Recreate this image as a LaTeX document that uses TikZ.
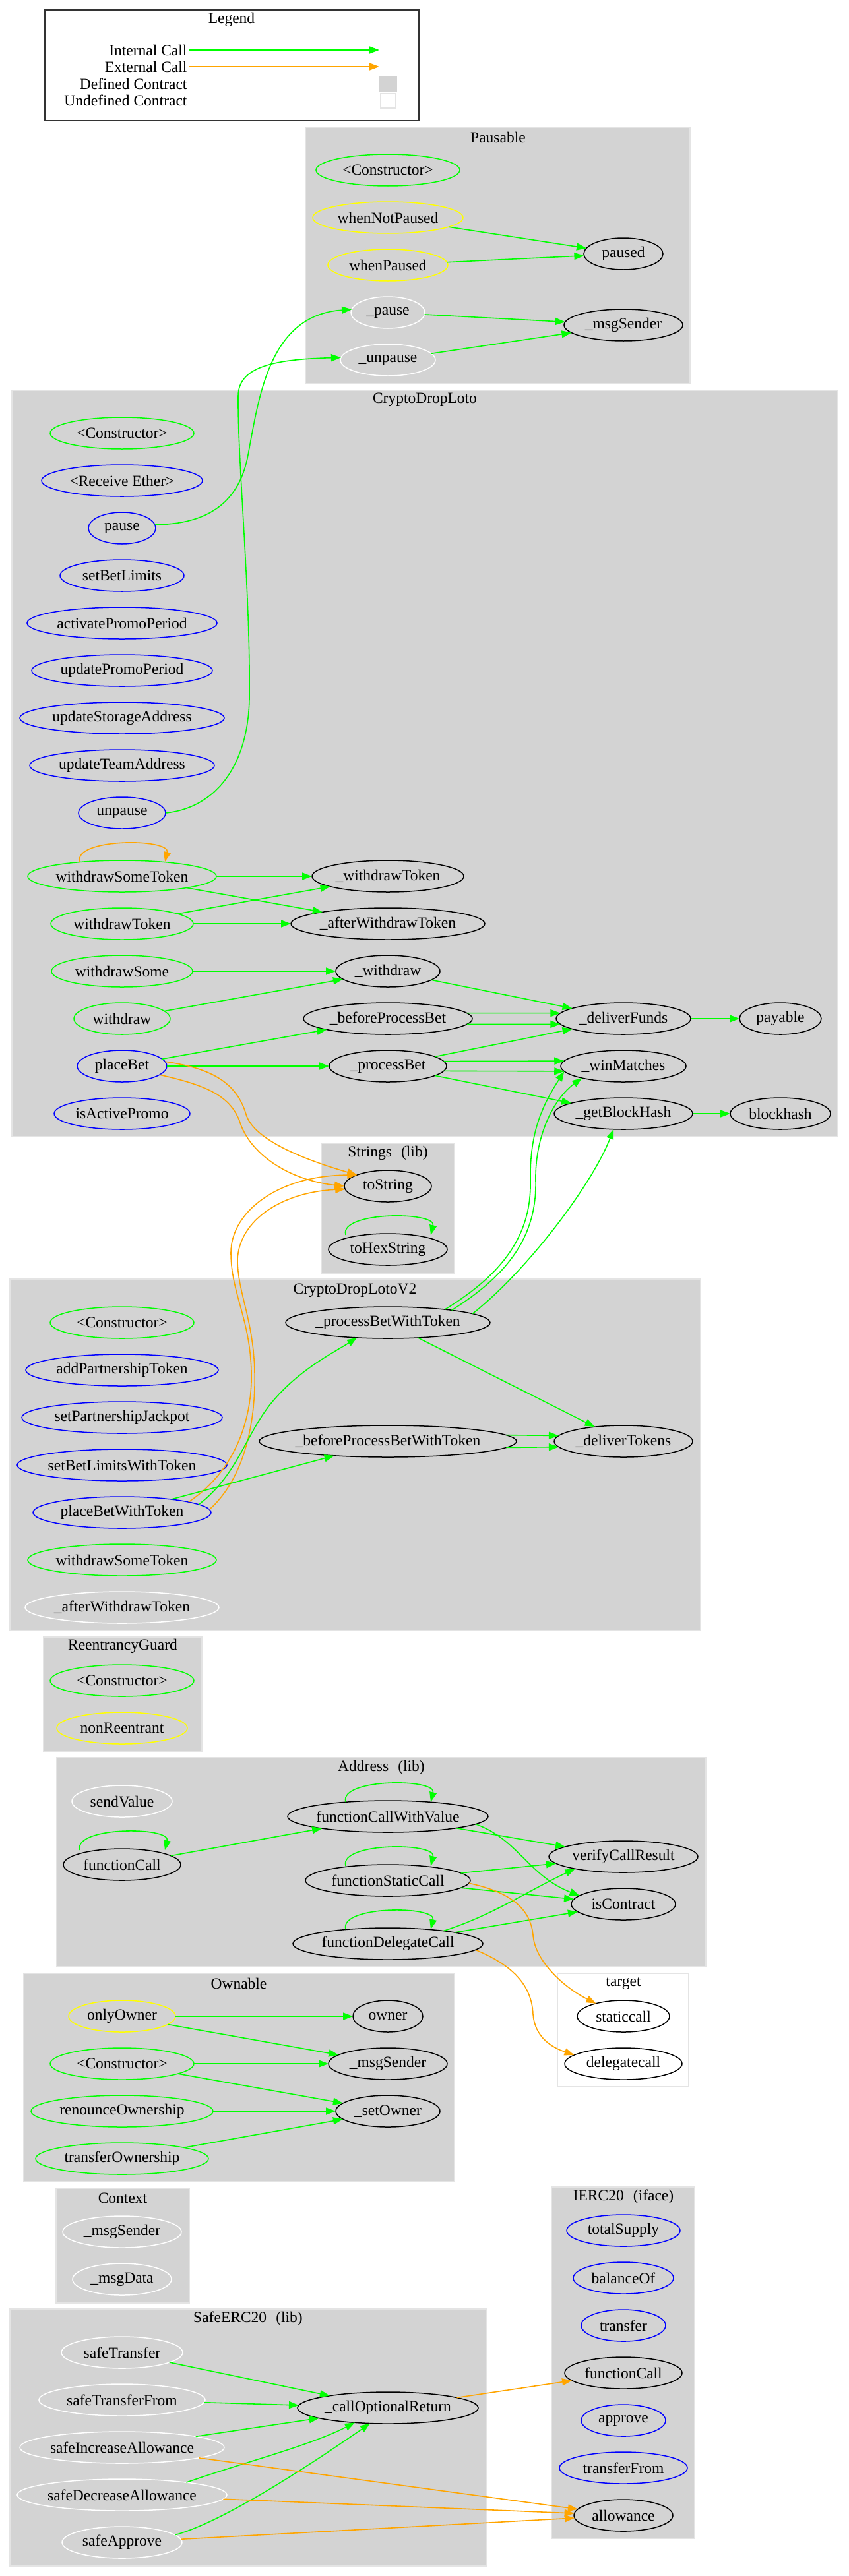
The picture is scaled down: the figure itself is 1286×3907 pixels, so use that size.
\documentclass[tikz,border=0pt]{standalone}
\usepackage{fontspec}
\setmainfont{Liberation Serif}
\usetikzlibrary{arrows.meta,shapes.geometric,calc}
\definecolor{gvgreen}{HTML}{00FF00}
\definecolor{gvorange}{HTML}{FFA500}
\definecolor{gvyellow}{HTML}{FFFF00}
\definecolor{gvblue}{HTML}{0000FF}
\definecolor{gvgray}{HTML}{D3D3D3}
\definecolor{gvedge}{HTML}{E4E4E4}
\newcommand\gvfont{\fontsize{23.5}{27}\selectfont}
\begin{document}
\begin{tikzpicture}[x=1pt,y=-1pt,
  fnode/.style={ellipse, draw, line width=1.5pt, minimum height=48pt, inner sep=0pt, outer sep=0pt, font=\gvfont, minimum width=#1},
  clus/.style={fill=gvgray, draw=gvedge, line width=1.2pt},
  ttl/.style={font=\gvfont, inner sep=0pt},
  lgl/.style={font=\gvfont, anchor=east},
  gl/.style={draw=gvgreen, line width=1.6pt, -{Triangle[length=15pt,width=11pt]}},
  ol/.style={draw=gvorange, line width=1.6pt, -{Triangle[length=15pt,width=11pt]}},
  lp/.style={to path={($(\tikztostart.north)+(-64,2)$) .. controls ($(\tikztostart.north)+(-74,-34)$) and ($(\tikztostart.north)+(74,-34)$) .. ($(\tikztostart.north)+(65,2)$)}},
]
\useasboundingbox (0,0) rectangle (1286,3907);
\fill[white] (0,0) rectangle (1286,3907);

% ---------- clusters ----------
\draw[black!80, line width=1.5pt, fill=white] (68,15) rectangle (635,183);
\draw[clus] (463,193) rectangle (1046,582);
\draw[clus] (18,592) rectangle (1270,1724);
\draw[clus] (487,1734) rectangle (689,1931);
\draw[clus] (15,1940) rectangle (1062,2473);
\draw[clus] (66,2483) rectangle (306,2656);
\draw[clus] (86,2666) rectangle (1070,2983);
\draw[clus] (36,2993) rectangle (689,3309);
\draw[draw=gvedge, fill=white, line width=1.2pt] (845,2993) rectangle (1044,3165);
\draw[clus] (85,3319) rectangle (287,3493);
\draw[clus] (836,3317) rectangle (1053,3850);
\draw[clus] (15,3502) rectangle (737,3892);

% ---------- titles ----------
\node[ttl] (tLeg) at (351,30) {Legend};
\node[ttl] (tPau) at (755,208) {Pausable};
\node[ttl] (tCDL) at (644,606) {CryptoDropLoto};
\node[ttl] (tStr) at (588,1749) {Strings\hspace{0.6em}(lib)};
\node[ttl] (tV2) at (538,1957) {CryptoDropLotoV2};
\node[ttl] (tRG) at (186,2497) {ReentrancyGuard};
\node[ttl] (tAdr) at (578,2681) {Address\hspace{0.6em}(lib)};
\node[ttl] (tOwn) at (362,3008) {Ownable};
\node[ttl] (tTgt) at (945,3008) {target};
\node[ttl] (tCtx) at (186,3334) {Context};
\node[ttl] (tIer) at (945,3332) {IERC20\hspace{0.6em}(iface)};
\node[ttl] (tSaf) at (376,3517) {SafeERC20\hspace{0.6em}(lib)};

% ---------- legend ----------
\node[lgl] (l1) at (287,76) {Internal Call};
\node[lgl] (l2) at (287,101) {External Call};
\node[lgl] (l3) at (287,127) {Defined Contract};
\node[lgl] (l4) at (287,152) {Undefined Contract};
\coordinate (l1e) at (575,76);
\coordinate (l2e) at (575,101);
\draw[gl] (l1.east) -- (l1e);
\draw[ol] (l2.east) -- (l2e);
\node[fill=gvgray, minimum width=27pt, minimum height=25pt, inner sep=0pt] (l3b) at (588.5,127.5) {};
\node[draw=gvedge, fill=white, line width=1.2pt, minimum width=23pt, minimum height=22pt, inner sep=0pt] (l4b) at (588.5,153) {};

% ---------- Pausable ----------
\node[fnode=218pt, draw=gvgreen] (pctor) at (588,258) {\makebox[0pt]{<Constructor>}};
\node[fnode=228pt, draw=gvyellow] (pwnp) at (588,330) {\makebox[0pt]{whenNotPaused}};
\node[fnode=182pt, draw=gvyellow] (pwp) at (588,402) {\makebox[0pt]{whenPaused}};
\node[fnode=112pt, draw=white] (ppause) at (588,474) {\makebox[0pt]{\_pause}};
\node[fnode=144pt, draw=white] (punpause) at (588,546) {\makebox[0pt]{\_unpause}};
\node[fnode=120pt, draw=black] (ppaused) at (945,385) {\makebox[0pt]{paused}};
\node[fnode=180pt, draw=black] (pmsg) at (945,493) {\makebox[0pt]{\_msgSender}};

% ---------- CryptoDropLoto ----------
\node[fnode=218pt, draw=gvgreen] (cctor) at (185,657) {\makebox[0pt]{<Constructor>}};
\node[fnode=244pt, draw=gvblue] (crecv) at (185,729) {\makebox[0pt]{<Receive Ether>}};
\node[fnode=102pt, draw=gvblue] (cpause) at (185,801) {\makebox[0pt]{pause}};
\node[fnode=188pt, draw=gvblue] (csbl) at (185,873) {\makebox[0pt]{setBetLimits}};
\node[fnode=288pt, draw=gvblue] (capp) at (185,945) {\makebox[0pt]{activatePromoPeriod}};
\node[fnode=274pt, draw=gvblue] (cupp) at (185,1017) {\makebox[0pt]{updatePromoPeriod}};
\node[fnode=310pt, draw=gvblue] (cusa) at (185,1089) {\makebox[0pt]{updateStorageAddress}};
\node[fnode=280pt, draw=gvblue] (cuta) at (185,1161) {\makebox[0pt]{updateTeamAddress}};
\node[fnode=132pt, draw=gvblue] (cunpause) at (185,1233) {\makebox[0pt]{unpause}};
\node[fnode=286pt, draw=gvgreen] (cwst) at (185,1329) {\makebox[0pt]{withdrawSomeToken}};
\node[fnode=216pt, draw=gvgreen] (cwt) at (185,1401) {\makebox[0pt]{withdrawToken}};
\node[fnode=214pt, draw=gvgreen] (cws) at (185,1473) {\makebox[0pt]{withdrawSome}};
\node[fnode=146pt, draw=gvgreen] (cw) at (185,1545) {\makebox[0pt]{withdraw}};
\node[fnode=136pt, draw=gvblue] (cpb) at (185,1617) {\makebox[0pt]{placeBet}};
\node[fnode=206pt, draw=gvblue] (ciap) at (185,1689) {\makebox[0pt]{isActivePromo}};
\node[fnode=230pt, draw=black] (cWT) at (588,1329) {\makebox[0pt]{\_withdrawToken}};
\node[fnode=294pt, draw=black] (cAWT) at (588,1401) {\makebox[0pt]{\_afterWithdrawToken}};
\node[fnode=158pt, draw=black] (cW) at (588,1473) {\makebox[0pt]{\_withdraw}};
\node[fnode=256pt, draw=black] (cBPB) at (588,1545) {\makebox[0pt]{\_beforeProcessBet}};
\node[fnode=178pt, draw=black] (cPB) at (588,1617) {\makebox[0pt]{\_processBet}};
\node[fnode=204pt, draw=black] (cDF) at (945,1545) {\makebox[0pt]{\_deliverFunds}};
\node[fnode=190pt, draw=black] (cWM) at (945,1617) {\makebox[0pt]{\_winMatches}};
\node[fnode=210pt, draw=black] (cGBH) at (945,1689) {\makebox[0pt]{\_getBlockHash}};
\node[fnode=124pt, draw=black] (cpay) at (1183,1545) {\makebox[0pt]{payable}};
\node[fnode=152pt, draw=black] (cbh) at (1183,1689) {\makebox[0pt]{blockhash}};

% ---------- Strings ----------
\node[fnode=132pt, draw=black] (stos) at (588,1799) {\makebox[0pt]{toString}};
\node[fnode=180pt, draw=black] (sthex) at (588,1895) {\makebox[0pt]{toHexString}};

% ---------- CryptoDropLotoV2 ----------
\node[fnode=218pt, draw=gvgreen] (vctor) at (185,2006) {\makebox[0pt]{<Constructor>}};
\node[fnode=292pt, draw=gvblue] (vapt) at (185,2078) {\makebox[0pt]{addPartnershipToken}};
\node[fnode=304pt, draw=gvblue] (vspj) at (185,2150) {\makebox[0pt]{setPartnershipJackpot}};
\node[fnode=318pt, draw=gvblue] (vsblt) at (185,2222) {\makebox[0pt]{setBetLimitsWithToken}};
\node[fnode=270pt, draw=gvblue] (vpbwt) at (185,2294) {\makebox[0pt]{placeBetWithToken}};
\node[fnode=286pt, draw=gvgreen] (vwst) at (185,2366) {\makebox[0pt]{withdrawSomeToken}};
\node[fnode=294pt, draw=white] (vawt) at (185,2438) {\makebox[0pt]{\_afterWithdrawToken}};
\node[fnode=310pt, draw=black] (vPBWT) at (588,2006) {\makebox[0pt]{\_processBetWithToken}};
\node[fnode=390pt, draw=black] (vBPBWT) at (588,2186) {\makebox[0pt]{\_beforeProcessBetWithToken}};
\node[fnode=210pt, draw=black] (vDT) at (945,2186) {\makebox[0pt]{\_deliverTokens}};

% ---------- ReentrancyGuard ----------
\node[fnode=218pt, draw=gvgreen] (rctor) at (185,2549) {\makebox[0pt]{<Constructor>}};
\node[fnode=198pt, draw=gvyellow] (rnr) at (185,2621) {\makebox[0pt]{nonReentrant}};

% ---------- Address ----------
\node[fnode=152pt, draw=white] (asv) at (185,2732) {\makebox[0pt]{sendValue}};
\node[fnode=178pt, draw=black] (afc) at (185,2828) {\makebox[0pt]{functionCall}};
\node[fnode=304pt, draw=black] (afcwv) at (588,2755) {\makebox[0pt]{functionCallWithValue}};
\node[fnode=250pt, draw=black] (afsc) at (588,2852) {\makebox[0pt]{functionStaticCall}};
\node[fnode=288pt, draw=black] (afdc) at (588,2948) {\makebox[0pt]{functionDelegateCall}};
\node[fnode=226pt, draw=black] (avcr) at (945,2816) {\makebox[0pt]{verifyCallResult}};
\node[fnode=158pt, draw=black] (aic) at (945,2888) {\makebox[0pt]{isContract}};

% ---------- target ----------
\node[fnode=140pt, draw=black] (tsc) at (945,3058) {\makebox[0pt]{staticcall}};
\node[fnode=178pt, draw=black] (tdc) at (945,3130) {\makebox[0pt]{delegatecall}};

% ---------- Ownable ----------
\node[fnode=162pt, draw=gvyellow] (ooo) at (185,3058) {\makebox[0pt]{onlyOwner}};
\node[fnode=218pt, draw=gvgreen] (octor) at (185,3130) {\makebox[0pt]{<Constructor>}};
\node[fnode=276pt, draw=gvgreen] (oro) at (185,3202) {\makebox[0pt]{renounceOwnership}};
\node[fnode=262pt, draw=gvgreen] (oto) at (185,3274) {\makebox[0pt]{transferOwnership}};
\node[fnode=106pt, draw=black] (oowner) at (588,3058) {\makebox[0pt]{owner}};
\node[fnode=180pt, draw=black] (omsg) at (588,3130) {\makebox[0pt]{\_msgSender}};
\node[fnode=158pt, draw=black] (oso) at (588,3202) {\makebox[0pt]{\_setOwner}};

% ---------- Context ----------
\node[fnode=180pt, draw=white] (xmsg) at (185,3385) {\makebox[0pt]{\_msgSender}};
\node[fnode=150pt, draw=white] (xdata) at (185,3457) {\makebox[0pt]{\_msgData}};

% ---------- IERC20 ----------
\node[fnode=172pt, draw=gvblue] (its) at (945,3383) {\makebox[0pt]{totalSupply}};
\node[fnode=152pt, draw=gvblue] (ibo) at (945,3455) {\makebox[0pt]{balanceOf}};
\node[fnode=128pt, draw=gvblue] (itr) at (945,3527) {\makebox[0pt]{transfer}};
\node[fnode=178pt, draw=black] (ifc) at (945,3599) {\makebox[0pt]{functionCall}};
\node[fnode=128pt, draw=gvblue] (iap) at (945,3671) {\makebox[0pt]{approve}};
\node[fnode=194pt, draw=gvblue] (itf) at (945,3743) {\makebox[0pt]{transferFrom}};
\node[fnode=150pt, draw=black] (ial) at (945,3815) {\makebox[0pt]{allowance}};

% ---------- SafeERC20 ----------
\node[fnode=184pt, draw=white] (sst) at (185,3568) {\makebox[0pt]{safeTransfer}};
\node[fnode=252pt, draw=white] (sstf) at (185,3640) {\makebox[0pt]{safeTransferFrom}};
\node[fnode=310pt, draw=white] (sia) at (185,3712) {\makebox[0pt]{safeIncreaseAllowance}};
\node[fnode=318pt, draw=white] (sda) at (185,3784) {\makebox[0pt]{safeDecreaseAllowance}};
\node[fnode=182pt, draw=white] (sap) at (185,3856) {\makebox[0pt]{safeApprove}};
\node[fnode=274pt, draw=black] (scor) at (588,3652) {\makebox[0pt]{\_callOptionalReturn}};

% ========== edges ==========
% Pausable
\draw[gl] (pwnp) -- (ppaused);
\draw[gl] (pwp) -- (ppaused);
\draw[gl] (ppause) -- (pmsg);
\draw[gl] (punpause) -- (pmsg);

% CryptoDropLoto
\draw[gl] (cpause.6) .. controls (318,795) and (363,760) .. (376,690) .. controls (393,600) and (408,478) .. (ppause.175);
\draw[gl] (cunpause.east) .. controls (328,1225) and (376,1160) .. (378,1060) .. controls (380,900) and (360,700) .. (361,600) .. controls (362,555) and (418,545) .. (punpause.177);
\draw[ol] (cwst) to[lp] (cwst);
\draw[gl] (cwst) -- (cWT);
\draw[gl] (cwst) -- (cAWT);
\draw[gl] (cwt) -- (cWT);
\draw[gl] (cwt) -- (cAWT);
\draw[gl] (cws) -- (cW);
\draw[gl] (cw) -- (cW);
\draw[gl] (cpb) -- (cBPB);
\draw[gl] (cpb) -- (cPB);
\draw[gl] (cW) -- (cDF);
\draw[gl] (cBPB.4) -- (cDF.175);
\draw[gl] (cBPB.-4) -- (cDF.-175);
\draw[gl] (cPB) -- (cDF);
\draw[gl] (cPB.5) -- (cWM.175);
\draw[gl] (cPB.-5) -- (cWM.-175);
\draw[gl] (cPB) -- (cGBH);
\draw[gl] (cDF) -- (cpay);
\draw[gl] (cGBH) -- (cbh);
\draw[ol] (cpb.6) .. controls (318,1620) and (358,1640) .. (373,1690) .. controls (383,1725) and (448,1755) .. (stos.160);
\draw[ol] (cpb.-13) .. controls (308,1645) and (348,1660) .. (363,1700) .. controls (378,1750) and (438,1790) .. (stos.180);

% Strings
\draw[gl] (sthex) to[lp] (sthex);

% CryptoDropLotoV2
\draw[ol] (vpbwt.9) .. controls (358,2230) and (383,2150) .. (381,2080) .. controls (379,2000) and (350,1960) .. (350,1900) .. controls (350,1840) and (418,1783) .. (stos.160);
\draw[ol] (vpbwt.2) .. controls (373,2240) and (388,2150) .. (386,2080) .. controls (384,2000) and (360,1960) .. (360,1910) .. controls (363,1850) and (428,1808) .. (stos.184);
\draw[gl] (vpbwt.6) .. controls (363,2235) and (373,2170) .. (418,2120) .. controls (458,2075) and (508,2050) .. (vPBWT.206);
\draw[gl] (vpbwt) -- (vBPBWT);
\draw[gl] (vPBWT.13) .. controls (766,1930) and (806,1870) .. (804,1790) .. controls (803,1720) and (820,1680) .. (cWM.185);
\draw[gl] (vPBWT.11) .. controls (776,1930) and (814,1870) .. (812,1790) .. controls (811,1720) and (841,1665) .. (cWM.196);
\draw[gl] (vPBWT.6) .. controls (796,1930) and (896,1800) .. (cGBH.238);
\draw[gl] (vPBWT) -- (vDT);
\draw[gl] (vBPBWT.3) -- (vDT.175);
\draw[gl] (vBPBWT.-3) -- (vDT.-175);

% Address
\draw[gl] (afcwv) to[lp] (afcwv);
\draw[gl] (afc) to[lp] (afc);
\draw[gl] (afsc) to[lp] (afsc);
\draw[gl] (afdc) to[lp] (afdc);
\draw[gl] (afc) -- (afcwv);
\draw[gl] (afcwv) -- (avcr);
\draw[gl] (afcwv.-5) .. controls (786,2790) and (801,2845) .. (aic.169);
\draw[gl] (afsc) -- (avcr);
\draw[gl] (afsc) -- (aic);
\draw[gl] (afdc.13) .. controls (746,2905) and (796,2870) .. (avcr.194);
\draw[gl] (afdc) -- (aic);
\draw[ol] (afsc.-2) .. controls (766,2868) and (804,2890) .. (808,2935) .. controls (811,2975) and (856,3015) .. (tsc.155);
\draw[ol] (afdc.-4) .. controls (776,2980) and (806,3010) .. (808,3055) .. controls (811,3090) and (836,3105) .. (tdc.170);

% Ownable
\draw[gl] (ooo) -- (oowner);
\draw[gl] (ooo) -- (omsg);
\draw[gl] (octor) -- (omsg);
\draw[gl] (octor) -- (oso);
\draw[gl] (oro) -- (oso);
\draw[gl] (oto) -- (oso);

% SafeERC20
\draw[gl] (sst) -- (scor);
\draw[gl] (sstf) -- (scor);
\draw[gl] (sia) -- (scor);
\draw[gl] (sda.11) .. controls (368,3735) and (468,3710) .. (scor.204);
\draw[gl] (sap.8) .. controls (338,3825) and (468,3740) .. (scor.221);
\draw[ol] (sia) -- (ial);
\draw[ol] (sda) -- (ial);
\draw[ol] (sap) -- (ial);
\draw[ol] (scor) -- (ifc);
\end{tikzpicture}
\end{document}
